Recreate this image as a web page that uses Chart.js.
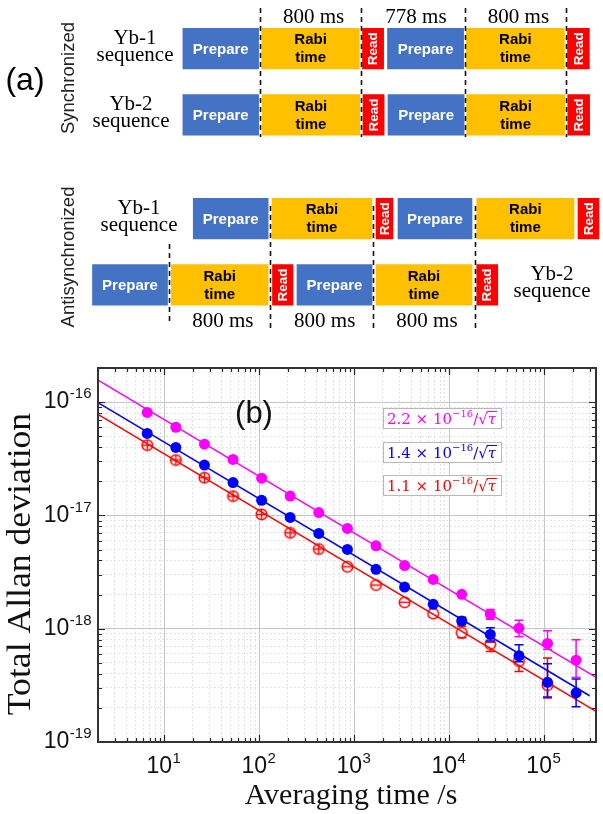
<!DOCTYPE html>
<html>
<head>
<meta charset="utf-8">
<title>Yb clock sequences and total Allan deviation</title>
<script src="https://cdn.jsdelivr.net/npm/chart.js@4.4.1/dist/chart.umd.min.js"></script>
<style>
  html, body { margin: 0; padding: 0; background: #fff; }
  #wrap { position: relative; width: 603px; height: 814px; overflow: hidden; }
  canvas { position: absolute; left: 0; }
  #syncChart { top: 0; }
  #antiChart { top: 165px; }
  #allanChart { top: 340px; }
</style>
</head>
<body>
<div id="wrap">
  <canvas id="syncChart" width="603" height="165"></canvas>
  <canvas id="antiChart" width="603" height="175"></canvas>
  <canvas id="allanChart" width="603" height="474"></canvas>
</div>
<script>
// (a) sequence blocks, schematic time in ms: [start, end] per phase
const phaseNames = ['Prepare', 'Rabi time', 'Read', 'Prepare', 'Rabi time', 'Read'];
const syncRows = ['Yb-1 sequence', 'Yb-2 sequence'];
const syncYb1 = [[0, 622], [631, 1428], [1437, 1622], [1637, 2262], [2268, 3068], [3077, 3268]];
const syncYb2 = [[0, 622], [634, 1432], [1441, 1626], [1641, 2266], [2270, 3070], [3079, 3270]];
const syncMarks = [627, 1433, 2265, 3073];
const syncGaps = ['800 ms', '778 ms', '800 ms'];

const antiRows = ['Yb-1 sequence', 'Yb-2 sequence'];
const antiYb1 = [[83, 698], [713, 1529], [1545, 1697], [1721, 2329], [2351, 3145], [3161, 3345]];
const antiYb2 = [[-723, -107], [-92, 698], [717, 897], [913, 1529], [1545, 2329], [2351, 2535]];
const antiMarks = [-101, 708, 1529, 2345];
const antiGaps = ['800 ms', '800 ms', '800 ms'];

// (b) total Allan deviation
const tau = [6.6, 13.2, 26.4, 52.8, 105.6, 211, 422, 845, 1690, 3380, 6760, 13500, 27000, 54100, 108000, 216000];
const devMagenta = [8.1e-17, 6.0e-17, 4.25e-17, 3.12e-17, 2.13e-17, 1.48e-17, 1.06e-17, 7.67e-18, 5.39e-18, 3.61e-18, 2.72e-18, 2.01e-18, 1.34e-18, 1.01e-18, 7.42e-19, 5.28e-19];
const hiMagenta = [null, null, null, null, null, null, null, null, null, null, null, null, 1.48e-18, 1.19e-18, 9.6e-19, 8.0e-19];
const loMagenta = [null, null, null, null, null, null, null, null, null, null, null, null, 1.21e-18, 8.5e-19, 6.6e-19, 3.7e-19];
const devBlue = [5.29e-17, 3.98e-17, 2.78e-17, 1.95e-17, 1.36e-17, 9.6e-18, 6.93e-18, 5.01e-18, 3.34e-18, 2.33e-18, 1.64e-18, 1.17e-18, 8.91e-19, 5.77e-19, 3.36e-19, 2.72e-19];
const hiBlue = [null, null, null, null, null, null, null, null, null, null, null, 1.26e-18, 1.02e-18, 7.2e-19, 4.9e-19, 3.6e-19];
const loBlue = [null, null, null, null, null, null, null, null, null, null, null, 1.09e-18, 7.8e-19, 5.1e-19, 2.5e-19, 2.05e-19];
const devRed = [4.17e-17, 3.08e-17, 2.15e-17, 1.48e-17, 1.02e-17, 7.02e-18, 5.05e-18, 3.52e-18, 2.43e-18, 1.71e-18, 1.36e-18, 9.2e-19, 7.31e-19, 5.18e-19, 3.18e-19];
const hiRed = [null, null, null, null, null, null, null, null, null, null, null, 1.05e-18, 7.6e-19, 5.65e-19, 5.5e-19];
const loRed = [null, null, null, null, null, null, null, null, null, null, null, 8.3e-19, 6.3e-19, 4.2e-19, 2.45e-19];

// fitted white-noise lines (end points)
const fitTauLong = [2, 350000];
const fitTauShort = [2, 300000];
const fitMagenta = [1.56e-16, 3.72e-19];
const fitBlue = [9.9e-17, 2.56e-19];
const fitRed = [7.8e-17, 1.86e-19];
const fitCoefs = ['2.2', '1.4', '1.1'];

const xDecades = [1, 2, 3, 4, 5];
const yDecades = [-16, -17, -18, -19];

var YBCLOCK = (function (YBCLOCK) {
    "use strict";
    const SERIF = '"Liberation Serif", "Times New Roman", serif';
    const SANS = '"Liberation Sans", Arial, sans-serif';
    const MATH = '"DejaVu Serif", serif';
    const BLOCK = { 'Prepare': '#4472C4', 'Rabi time': '#FFC000', 'Read': '#FF0000' };
    const MAGENTA = '#FF00FF', BLUE = '#0000FF', RED = '#FF0000';
    // schematic time axis, 8 ms per pixel, Yb-1 synchronized prepare starts at x=182
    const T_MIN = -1455, T_MAX = 3369;

    const isDecade = v => Math.abs(Math.log10(v) - Math.round(Math.log10(v))) < 1e-6;
    const logTicks = (min, max) => {
        const out = [];
        for (let e = Math.floor(Math.log10(min)); e <= Math.ceil(Math.log10(max)); e++) {
            for (let m = 1; m <= 9; m++) {
                const v = m * Math.pow(10, e);
                if (v >= min * 0.999999 && v <= max * 1.000001) out.push({ value: v });
            }
        }
        return out;
    };

    //---------------- (a) timing rows ----------------
    const seqPlugin = {
        id: 'seqText',
        afterDatasetsDraw(chart, args, cfg) {
            const g = chart.ctx, xs = chart.scales.x, ys = chart.scales.y;
            g.save();
            g.textAlign = 'center';
            g.textBaseline = 'middle';
            chart.data.datasets.forEach((ds, k) => {
                chart.getDatasetMeta(k).data.forEach(bar => {
                    const p = bar.getProps(['x', 'y', 'base'], true);
                    const cx = (p.x + p.base) / 2;
                    if (ds.label === 'Prepare') {
                        g.fillStyle = '#fff';
                        g.font = 'bold 15px ' + SANS;
                        g.fillText('Prepare', cx, p.y + 1);
                    } else if (ds.label === 'Rabi time') {
                        g.fillStyle = '#000';
                        g.font = 'bold 15px ' + SANS;
                        g.fillText('Rabi', cx, p.y - 8.5);
                        g.fillText('time', cx, p.y + 9.5);
                    } else {
                        g.save();
                        g.translate(cx, p.y);
                        g.rotate(-Math.PI / 2);
                        g.fillStyle = '#fff';
                        g.font = 'bold 13.5px ' + SANS;
                        g.fillText('Read', 0, 0.5);
                        g.restore();
                    }
                });
            });

            // row names
            g.fillStyle = '#000';
            g.font = '21px ' + SERIF;
            chart.data.labels.forEach((name, i) => {
                const py = ys.getPixelForValue(i);
                const parts = name.split(' ');
                g.fillText(parts[0], cfg.labelX[i], py - 10);
                g.fillText(parts[1], cfg.labelX[i], py + 7);
            });

            // dashed cycle boundaries
            g.save();
            g.setLineDash([5, 4]);
            g.lineWidth = 1.6;
            g.strokeStyle = '#111';
            cfg.marks.forEach((t, i) => {
                const px = Math.round(xs.getPixelForValue(t)) + 0.5;
                const span = cfg.markSpan[i];
                g.beginPath();
                g.moveTo(px, span[0]);
                g.lineTo(px, span[1]);
                g.stroke();
            });
            g.restore();

            // interval durations
            cfg.gaps.forEach((txt, i) => {
                const px = xs.getPixelForValue((cfg.marks[i] + cfg.marks[i + 1]) / 2) + 3;
                g.fillText(txt, px, cfg.gapY);
            });

            // side title
            g.save();
            g.translate(68.5, cfg.titleY);
            g.rotate(-Math.PI / 2);
            g.font = '18.5px ' + SANS;
            g.fillStyle = '#222';
            g.fillText(cfg.title, 0, 0);
            g.restore();

            if (cfg.panel) {
                g.font = '32px ' + SANS;
                g.fillStyle = '#000';
                g.fillText(cfg.panel, 25, 81);
            }
            g.restore();
        }
    };

    YBCLOCK.drawTiming = function (id, rowNames, seqs, cfg) {
        const datasets = phaseNames.map((name, k) => ({
            label: name,
            data: seqs.map(s => s[k]),
            backgroundColor: BLOCK[name],
            borderColor: 'rgba(255,255,255,0.6)',
            borderWidth: 1,
            borderSkipped: false,
            grouped: false,
            barThickness: 42.5
        }));
        return new Chart(document.getElementById(id), {
            type: 'bar',
            data: { labels: rowNames, datasets: datasets },
            options: {
                indexAxis: 'y',
                responsive: false,
                animation: false,
                events: [],
                devicePixelRatio: 1,
                layout: { padding: { left: 0, right: 0, top: cfg.padTop, bottom: cfg.padBottom } },
                plugins: { legend: { display: false }, tooltip: { enabled: false }, seqText: cfg },
                scales: {
                    x: { type: 'linear', min: T_MIN, max: T_MAX, display: false },
                    y: { display: false }
                }
            },
            plugins: [seqPlugin]
        });
    };

    //---------------- (b) Allan deviation ----------------
    const ring = (kind) => {
        const c = document.createElement('canvas');
        c.width = 15; c.height = 15;
        const g = c.getContext('2d');
        g.strokeStyle = RED;
        g.lineWidth = 1.5;
        g.beginPath();
        g.arc(7.5, 7.5, 5.3, 0, Math.PI * 2);
        g.stroke();
        if (kind !== 'open') {
            g.beginPath();
            g.moveTo(2.5, 7.5); g.lineTo(12.5, 7.5);
            if (kind === 'plus') { g.moveTo(7.5, 2.5); g.lineTo(7.5, 12.5); }
            g.stroke();
        }
        return c;
    };
    const RING_PLUS = ring('plus'), RING_MINUS = ring('minus'), RING_OPEN = ring('open');

    const errPlugin = {
        id: 'errBars',
        beforeDatasetDraw(chart, args) {
            const ds = chart.data.datasets[args.index];
            if (!ds.errHi) return;
            const g = chart.ctx, xs = chart.scales.x, ys = chart.scales.y;
            g.save();
            g.strokeStyle = ds.errColor;
            g.lineWidth = 1.5;
            ds.errHi.forEach((hi, i) => {
                if (hi == null) return;
                const px = xs.getPixelForValue(ds.data[i].x);
                const pc = ys.getPixelForValue(ds.data[i].y);
                const ph = ys.getPixelForValue(hi), pl = ys.getPixelForValue(ds.errLo[i]);
                const r = ds.errOutside ? 5.3 : 0;
                g.beginPath();
                if (ph < pc - r) { g.moveTo(px, pc - r); g.lineTo(px, ph); }
                if (pl > pc + r) { g.moveTo(px, pc + r); g.lineTo(px, pl); }
                g.moveTo(px - 4.5, ph); g.lineTo(px + 4.5, ph);
                g.moveTo(px - 4.5, pl); g.lineTo(px + 4.5, pl);
                g.stroke();
            });
            g.restore();
        }
    };

    const drawPow = (g, exp, right, cy, align) => {
        g.font = '23px ' + SANS;
        const wb = g.measureText('10').width;
        g.font = '15px ' + SANS;
        const we = g.measureText(exp).width;
        const left = align === 'center' ? right - (wb + we) / 2 : right - wb - we;
        g.textAlign = 'left';
        g.textBaseline = 'middle';
        g.font = '23px ' + SANS;
        g.fillText('10', left, cy);
        g.font = '15px ' + SANS;
        g.fillText(exp, left + wb + 0.5, cy - 8);
    };

    const framePlugin = {
        id: 'originFrame',
        afterDraw(chart) {
            const g = chart.ctx, xs = chart.scales.x, ys = chart.scales.y, a = chart.chartArea;
            g.save();
            // inward ticks on all four sides
            g.strokeStyle = '#222';
            g.lineWidth = 1.2;
            g.beginPath();
            xs.ticks.forEach(t => {
                const px = Math.round(xs.getPixelForValue(t.value)) + 0.5;
                const len = isDecade(t.value) ? 7 : 4;
                g.moveTo(px, a.bottom); g.lineTo(px, a.bottom - len);
                g.moveTo(px, a.top); g.lineTo(px, a.top + len);
            });
            ys.ticks.forEach(t => {
                const py = Math.round(ys.getPixelForValue(t.value)) + 0.5;
                const len = isDecade(t.value) ? 7 : 4;
                g.moveTo(a.left, py); g.lineTo(a.left + len, py);
                g.moveTo(a.right, py); g.lineTo(a.right - len, py);
            });
            g.stroke();
            g.strokeStyle = '#333';
            g.lineWidth = 2;
            g.strokeRect(a.left, a.top, a.right - a.left, a.bottom - a.top);

            // tick labels
            g.fillStyle = '#111';
            xDecades.forEach(e => drawPow(g, String(e), xs.getPixelForValue(Math.pow(10, e)) - 1, a.bottom + 25, 'center'));
            yDecades.forEach(e => drawPow(g, String(e), a.left - 7, ys.getPixelForValue(Math.pow(10, e)), 'right'));

            // axis titles
            g.textAlign = 'center';
            g.textBaseline = 'middle';
            g.font = '30px ' + SERIF;
            g.fillText('Averaging time /s', 351, 456);
            g.save();
            g.translate(21, 224);
            g.rotate(-Math.PI / 2);
            g.font = '33px ' + SERIF;
            g.scale(1.08, 1);
            g.fillText('Total Allan deviation', 0, 0);
            g.restore();

            // panel tag
            g.font = '31px ' + SANS;
            g.fillText('(b)', 254, 74);

            // fit legends
            const cols = [MAGENTA, BLUE, RED];
            const tops = [68, 102, 135];
            fitCoefs.forEach((c, i) => {
                const x0 = 383, y0 = tops[i];
                const lead = c + ' \u00d7 10';
                g.font = '15px ' + MATH;
                const w1 = g.measureText(lead).width;
                g.font = '10px ' + MATH;
                const w2 = g.measureText('\u221216').width;
                g.font = '15px ' + MATH;
                const w3 = g.measureText('/').width;
                const w4 = g.measureText('\u221a').width;
                g.font = 'italic 15px ' + MATH;
                const w5 = g.measureText('\u03c4').width;
                const total = w1 + w2 + w3 + w4 + w5 + 1;
                g.fillStyle = '#fff';
                g.fillRect(x0, y0, total + 8, 20);
                g.strokeStyle = '#b8b8b8';
                g.lineWidth = 1;
                g.strokeRect(x0 + 0.5, y0 + 0.5, total + 8, 20);
                g.fillStyle = cols[i];
                g.textAlign = 'left';
                g.textBaseline = 'alphabetic';
                const base = y0 + 16;
                let cx = x0 + 4;
                g.font = '15px ' + MATH;
                g.fillText(lead, cx, base); cx += w1;
                g.font = '10px ' + MATH;
                g.fillText('\u221216', cx, base - 7); cx += w2;
                g.font = '15px ' + MATH;
                g.fillText('/', cx, base); cx += w3;
                g.fillText('\u221a', cx, base); cx += w4;
                g.font = 'italic 15px ' + MATH;
                g.fillText('\u03c4', cx, base);
                g.strokeStyle = cols[i];
                g.lineWidth = 1;
                g.beginPath();
                g.moveTo(cx - 1, base - 12.5); g.lineTo(cx + w5 + 1, base - 12.5);
                g.stroke();
            });
            g.restore();
        }
    };

    YBCLOCK.drawAllan = function () {
        const pts = vals => vals.map((v, i) => ({ x: tau[i], y: v }));
        const seg = (ts, vs) => ts.map((t, i) => ({ x: t, y: vs[i] }));
        const fitLine = (label, ts, vs, color) => ({
            label: label, data: seg(ts, vs), showLine: true, borderColor: color,
            borderWidth: 1.5, pointRadius: 0, order: 5
        });
        const gridColor = c => (c.tick && isDecade(c.tick.value)) ? '#c6c6c6' : '#e3e3e3';
        const gridDash = c => (c.tick && !isDecade(c.tick.value)) ? [2, 2] : [];

        new Chart(document.getElementById('allanChart'), {
            type: 'scatter',
            data: {
                datasets: [
                    fitLine('fit 2.2e-16', fitTauLong, fitMagenta, MAGENTA),
                    fitLine('fit 1.4e-16', fitTauShort, fitBlue, BLUE),
                    fitLine('fit 1.1e-16', fitTauLong, fitRed, RED),
                    {
                        label: 'red', data: pts(devRed), order: 2,
                        pointStyle: c => c.dataIndex < 7 ? RING_PLUS : (c.dataIndex < 10 ? RING_MINUS : RING_OPEN),
                        pointRadius: 6, errHi: hiRed, errLo: loRed, errColor: RED, errOutside: true
                    },
                    {
                        label: 'blue', data: pts(devBlue), order: 1, backgroundColor: BLUE, borderWidth: 0,
                        pointRadius: 5.5, errHi: hiBlue, errLo: loBlue, errColor: BLUE
                    },
                    {
                        label: 'magenta', data: pts(devMagenta), order: 0, backgroundColor: MAGENTA, borderWidth: 0,
                        pointRadius: 5.5, errHi: hiMagenta, errLo: loMagenta, errColor: MAGENTA
                    }
                ]
            },
            options: {
                responsive: false,
                animation: false,
                events: [],
                devicePixelRatio: 1,
                layout: { padding: { left: 98, right: 1, top: 28, bottom: 72 } },
                plugins: { legend: { display: false }, tooltip: { enabled: false } },
                scales: {
                    x: {
                        type: 'logarithmic', min: 2, max: 350000,
                        afterBuildTicks: s => { s.ticks = logTicks(2, 350000); },
                        afterFit: s => { s.height = 0; },
                        ticks: { display: false },
                        grid: { drawTicks: false, color: gridColor, lineWidth: 1 },
                        border: { display: false, dash: gridDash }
                    },
                    y: {
                        type: 'logarithmic', min: 1e-19, max: 2e-16,
                        afterBuildTicks: s => { s.ticks = logTicks(1e-19, 2e-16); },
                        afterFit: s => { s.width = 0; },
                        ticks: { display: false },
                        grid: { drawTicks: false, color: gridColor, lineWidth: 1 },
                        border: { display: false, dash: gridDash }
                    }
                }
            },
            plugins: [errPlugin, framePlugin]
        });
    };

    YBCLOCK.run = function () {
        YBCLOCK.drawTiming('syncChart', syncRows, [syncYb1, syncYb2], {
            padTop: 15.5, padBottom: 16.9,
            labelX: [135, 131],
            marks: syncMarks, markSpan: [[8, 137], [8, 137], [8, 137], [8, 137]],
            gaps: syncGaps, gapY: 17,
            title: 'Synchronized', titleY: 78, panel: '(a)'
        });
        YBCLOCK.drawTiming('antiChart', antiRows, [antiYb1, antiYb2], {
            padTop: 20.5, padBottom: 21.9,
            labelX: [139, 552],
            marks: antiMarks, markSpan: [[79, 160], [41, 165], [41, 165], [41, 165]],
            gaps: antiGaps, gapY: 156,
            title: 'Antisynchronized', titleY: 92
        });
        YBCLOCK.drawAllan();
    };
    return YBCLOCK;
})(window.YBCLOCK || {});
YBCLOCK.run();
</script>
</body>
</html>
